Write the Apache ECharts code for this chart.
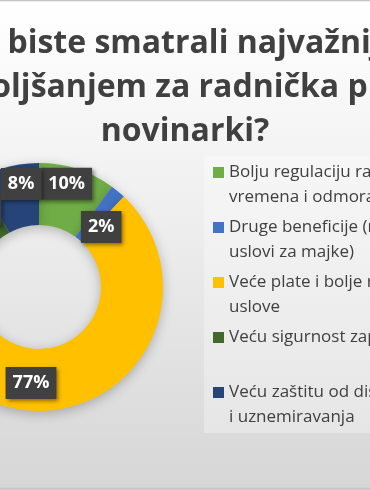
<!DOCTYPE html>
<html>
<head>
<meta charset="utf-8">
<script src="https://cdn.jsdelivr.net/npm/echarts@6/dist/echarts.min.js"></script>
<style>
html,body{margin:0;padding:0;background:#fff;}
#c{width:370px;height:490px;}
</style>
</head>
<body>
<div id="c"></div>
<script>
// ---- data ----
const titleLines = ['Šta biste smatrali najvažnijim', 'poboljšanjem za radnička prava', 'novinarki?'];
const categories = [
  'Bolju regulaciju radnog vremena i odmora',
  'Druge beneficije (npr. uslovi za majke)',
  'Veće plate i bolje radne uslove',
  'Veću sigurnost zaposlenja',
  'Veću zaštitu od diskriminacije i uznemiravanja'
];
const legendLine1 = ['Bolju regulaciju radnog', 'Druge beneficije (npr.', 'Veće plate i bolje radne', 'Veću sigurnost zaposlenja', 'Veću zaštitu od diskriminacije'];
const legendLine2 = ['vremena i odmora', 'uslovi za majke)', 'uslove', '', 'i uznemiravanja'];
const values = [10, 2, 77, 3, 8];
const colors = ['#70ad47', '#4472c4', '#ffc000', '#43682b', '#264478'];

// label nudges (pixels) like the manually placed labels in the original
const labelNudge = [[-2, -12], [1, 14], [-5, 0], [-4, 2], [6, -10]];

const chart = echarts.init(document.getElementById('c'), null, {renderer: 'canvas'});
const font = '"Open Sans", Lato, "Liberation Sans", sans-serif';

chart.setOption({
  backgroundColor: {
    type: 'linear', x: 0, y: 0, x2: 0, y2: 1,
    colorStops: [{offset: 0, color: '#ffffff'}, {offset: 0.45, color: '#eeeeee'}, {offset: 1, color: '#d6d6d6'}]
  },
  animation: false,
  title: {
    text: titleLines.join('\n'),
    left: 'center',
    top: 22,
    padding: 0,
    textStyle: {
      fontFamily: font,
      fontSize: 32,
      fontWeight: 'bold',
      color: '#404040',
      lineHeight: 44
    }
  },
  graphic: [
    {type: 'rect', z: 0, silent: true,
     shape: {x: 204, y: 156, width: 180, height: 277},
     style: {fill: 'rgba(255,255,255,0.3)'}},
    {type: 'rect', z: 100, silent: true,
     shape: {x: -5, y: 0.5, width: 380, height: 488},
     style: {fill: 'none', stroke: '#c4c4c4', lineWidth: 1.5}}
  ],
  legend: {
    orient: 'vertical',
    left: 213,
    top: 135,
    padding: 0,
    itemWidth: 11,
    itemHeight: 11,
    itemGap: -20,
    icon: 'rect',
    data: categories,
    formatter: function (name) {
      const i = categories.indexOf(name);
      return '\n' + legendLine1[i] + '\n' + legendLine2[i];
    },
    textStyle: {
      fontFamily: font,
      fontSize: 17,
      color: '#404040',
      lineHeight: 25
    }
  },
  series: [{
    type: 'pie',
    center: [39, 287],
    radius: [62, 124],
    startAngle: 90,
    clockwise: true,
    avoidLabelOverlap: false,
    itemStyle: {
      shadowBlur: 12,
      shadowColor: 'rgba(0,0,0,0.25)',
      shadowOffsetY: 3
    },
    label: {
      show: true,
      position: 'inside',
      formatter: '{d}%',
      fontFamily: font,
      fontSize: 18,
      fontWeight: 'bold',
      color: '#ffffff',
      backgroundColor: '#404040',
      padding: [7, 7, 6, 7],
      lineHeight: 19,
      shadowBlur: 4,
      shadowOffsetX: 2,
      shadowOffsetY: 2,
      shadowColor: 'rgba(0,0,0,0.45)'
    },
    labelLine: {show: false},
    labelLayout: function (p) {
      const n = labelNudge[p.dataIndex];
      return {dx: n[0], dy: n[1]};
    },
    data: categories.map(function (c, i) {
      return {name: c, value: values[i], itemStyle: {color: colors[i]}};
    })
  }]
});
</script>
</body>
</html>
